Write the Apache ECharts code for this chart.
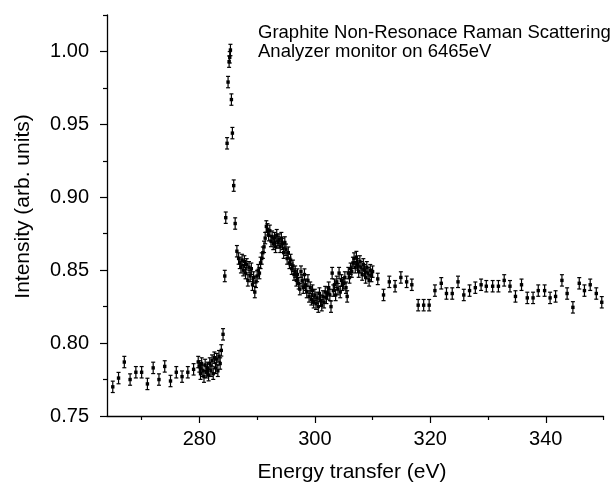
<!DOCTYPE html>
<html><head><meta charset="utf-8">
<script src="https://cdn.jsdelivr.net/npm/echarts@6/dist/echarts.min.js"></script>
<style>html,body{margin:0;padding:0;background:#fff}#c{width:616px;height:486px}</style>
</head><body><div id="c"></div>
<script>
// ---- data ----
const energy = [
  265,266,267,268,269,270,271,272,273,274,275,276,277,278,279,
  279.8,280.0,280.2,280.4,280.6,280.8,281.0,281.2,281.4,281.6,281.8,282.0,282.2,282.4,282.6,282.8,283.0,283.2,283.4,283.6,283.8,284.1,
  284.4,284.57,284.8,284.97,285.15,285.26,285.38,285.55,285.72,285.95,286.2,286.5,
  286.8,287.0,287.2,287.4,287.6,287.8,288.0,288.2,288.4,288.6,288.8,289.0,289.2,289.4,289.6,289.8,
  290.0,290.2,290.4,290.6,290.8,291.0,291.2,291.4,291.6,291.8,292.0,292.2,292.4,292.6,292.8,
  293.0,293.2,293.4,293.6,293.8,294.0,294.2,294.4,294.6,294.8,295.0,295.2,295.4,295.6,295.8,
  296.0,296.2,296.4,296.6,296.8,297.0,297.2,297.4,297.6,297.8,298.0,298.2,298.4,298.6,298.8,
  299.0,299.2,299.4,299.6,299.8,300.0,300.2,300.4,300.6,300.8,301.0,301.2,301.4,301.6,301.8,
  302.0,302.2,302.4,302.6,302.8,303.0,303.2,303.4,303.6,303.8,304.0,304.2,304.4,304.6,304.8,
  305.0,305.2,305.4,305.6,305.8,306.0,306.2,306.4,306.6,306.8,307.0,307.2,307.4,307.6,307.8,
  308.0,308.2,308.4,308.6,308.8,309.0,309.2,309.4,309.6,309.8,310.0,
  310.9,311.9,312.9,313.9,314.9,315.9,316.8,317.9,318.85,319.8,320.8,321.9,322.8,323.8,324.8,
  325.8,326.8,327.8,328.8,329.7,330.8,331.8,332.8,333.8,334.75,335.8,336.8,337.8,338.7,339.8,
  340.75,341.7,342.8,343.7,344.7,345.8,346.7,347.7,348.75,349.7
];
const intensity = [
  0.770,0.776,0.787,0.775,0.780,0.780,0.772,0.783,0.775,0.784,0.774,0.780,0.777,0.780,0.782,
  0.787,0.784,0.779,0.786,0.781,0.777,0.785,0.780,0.783,0.778,0.786,0.781,0.788,0.779,0.790,0.783,0.789,0.781,0.791,0.786,0.795,0.806,
  0.846,0.886,0.937,0.979,0.993,0.996,1.001,0.967,0.944,0.908,0.882,0.863,
  0.858,0.855,0.852,0.857,0.850,0.856,0.848,0.854,0.843,0.852,0.846,0.851,0.840,0.845,0.835,0.842,
  0.846,0.850,0.848,0.855,0.858,0.862,0.866,0.872,0.880,0.878,0.874,0.877,0.870,0.873,0.868,
  0.872,0.866,0.874,0.869,0.871,0.866,0.872,0.868,0.862,0.869,0.864,0.858,0.862,0.855,0.857,
  0.851,0.853,0.847,0.849,0.843,0.847,0.841,0.837,0.849,0.843,0.838,0.847,0.840,0.835,0.843,
  0.832,0.838,0.830,0.836,0.828,0.833,0.827,0.831,0.825,0.834,0.829,0.826,0.832,0.828,0.835,
  0.831,0.834,0.838,0.833,0.825,0.848,0.836,0.840,0.833,0.842,0.837,0.848,0.835,0.843,0.840,
  0.841,0.845,0.838,0.832,0.848,0.845,0.851,0.849,0.855,0.858,0.852,0.859,0.854,0.849,0.856,
  0.852,0.847,0.854,0.850,0.845,0.852,0.848,0.843,0.850,0.846,0.849,
  0.844,0.833,0.842,0.839,0.845,0.842,0.840,0.826,0.826,0.826,0.836,0.841,0.834,0.834,0.842,
  0.833,0.836,0.838,0.840,0.839,0.839,0.839,0.843,0.839,0.832,0.840,0.831,0.831,0.836,0.836,
  0.831,0.832,0.843,0.834,0.8245,0.841,0.836,0.840,0.834,0.828
];
const errorHalf = 0.0039;
const xMajorTicks = [280, 300, 320, 340];
const xMinorTicks = [270, 290, 310, 330, 350];
const yMajorTicks = [0.75, 0.80, 0.85, 0.90, 0.95, 1.00];
const yMinorTicks = [0.775, 0.825, 0.875, 0.925, 0.975, 1.025];
const annotationLines = ['Graphite Non-Resonace Raman Scattering', 'Analyzer monitor on 6465eV'];
const xTitle = 'Energy transfer (eV)';
const yTitle = 'Intensity (arb. units)';

// ---- chart ----
const FONT = '"Liberation Sans", Arial, sans-serif';
const chart = echarts.init(document.getElementById('c'), null, {renderer: 'canvas'});
const points = energy.map((e, i) => [e, intensity[i]]);
const axisCommon = {
  type: 'value', splitLine: {show: false},
  axisLine: {show: true, lineStyle: {color: '#000', width: 1.3}}
};
chart.setOption({
  animation: false,
  backgroundColor: '#fff',
  grid: {left: 107, top: 15, right: 12.5, bottom: 70},
  xAxis: [
    Object.assign({}, axisCommon, {
      min: 264, max: 350, position: 'bottom',
      axisTick: {show: true, customValues: xMajorTicks, length: 7, lineStyle: {color: '#000', width: 1.2}},
      axisLabel: {customValues: xMajorTicks, fontSize: 20, color: '#000', fontFamily: FONT, margin: 13}
    }),
    {type: 'value', min: 264, max: 350, position: 'bottom', splitLine: {show: false},
      axisLine: {show: false},
      axisTick: {show: true, customValues: xMinorTicks, length: 4, lineStyle: {color: '#000', width: 1.2}},
      axisLabel: {show: false}}
  ],
  yAxis: [
    Object.assign({}, axisCommon, {
      min: 0.75, max: 1.025, position: 'left',
      axisTick: {show: true, customValues: yMajorTicks, length: 7, lineStyle: {color: '#000', width: 1.2}},
      axisLabel: {customValues: yMajorTicks, fontSize: 20, color: '#000', fontFamily: FONT, margin: 18,
        formatter: v => v.toFixed(2)}
    }),
    {type: 'value', min: 0.75, max: 1.025, position: 'left', splitLine: {show: false},
      axisLine: {show: false},
      axisTick: {show: true, customValues: yMinorTicks, length: 4, lineStyle: {color: '#000', width: 1.2}},
      axisLabel: {show: false}}
  ],
  series: [{
    type: 'custom',
    xAxisIndex: 0, yAxisIndex: 0,
    data: points,
    encode: {x: 0, y: 1},
    renderItem: function (params, api) {
      const x = api.value(0), y = api.value(1);
      const top = api.coord([x, y + errorHalf]);
      const bot = api.coord([x, y - errorHalf]);
      const c = api.coord([x, y]);
      const cap = 2;
      const st = {stroke: '#000', lineWidth: 1.2};
      return {type: 'group', children: [
        {type: 'line', shape: {x1: top[0], y1: top[1], x2: bot[0], y2: bot[1]}, style: st},
        {type: 'line', shape: {x1: top[0] - cap, y1: top[1], x2: top[0] + cap, y2: top[1]}, style: st},
        {type: 'line', shape: {x1: bot[0] - cap, y1: bot[1], x2: bot[0] + cap, y2: bot[1]}, style: st},
        {type: 'rect', shape: {x: c[0] - 1.7, y: c[1] - 1.7, width: 3.4, height: 3.4}, style: {fill: '#000'}}
      ]};
    }
  }],
  graphic: [
    {type: 'text', x: 258, y: 24, silent: true,
      style: {text: annotationLines.join('\n'), fontSize: 18.5, fontFamily: FONT, lineHeight: 18.5,
        fill: '#000', align: 'left', verticalAlign: 'top'}},
    {type: 'text', x: 352, y: 472, silent: true,
      style: {text: xTitle, fontSize: 21, fontFamily: FONT, fill: '#000', align: 'center', verticalAlign: 'middle'}},
    {type: 'text', x: 23.5, y: 206.5, rotation: Math.PI / 2, silent: true,
      style: {text: yTitle, fontSize: 21, fontFamily: FONT, fill: '#000', align: 'center', verticalAlign: 'middle'}}
  ]
});
</script>
</body></html>
